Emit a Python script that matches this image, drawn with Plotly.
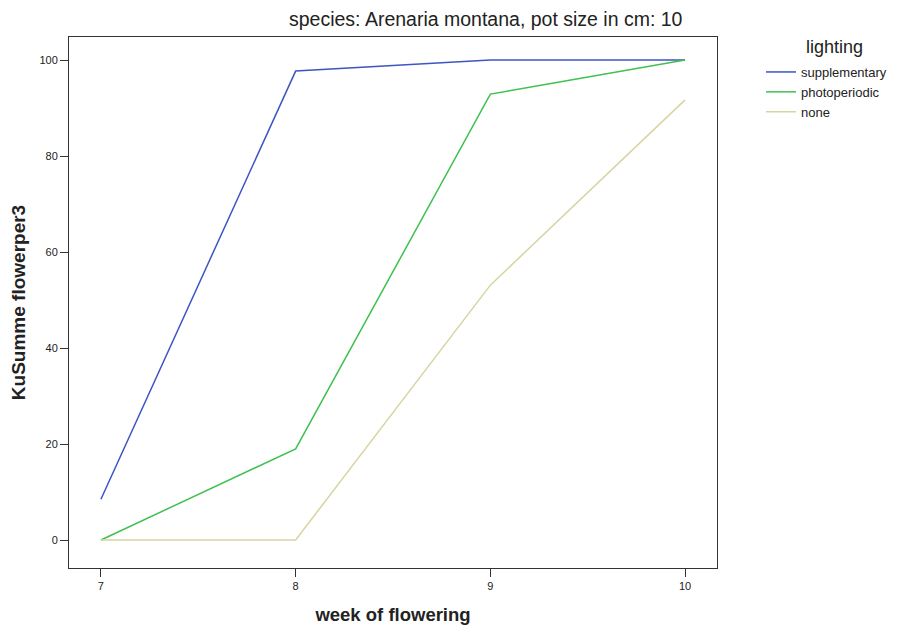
import plotly.graph_objects as go

weeks = [7, 8, 9, 10]
supplementary = [8.5, 97.7, 100.0, 100.0]
photoperiodic = [0.0, 19.0, 92.9, 100.0]
none_ = [0.0, 0.0, 53.1, 91.7]
x_ticks = [7, 8, 9, 10]
y_ticks = [0, 20, 40, 60, 80, 100]

OFF = 8  # page body margin
W, H = 897 - OFF, 626 - OFF
L, R, T, B = 69 - OFF, 717 - OFF, 37 - OFF, 568 - OFF
pw = R - L
ph = B - T

def px(x):
    return (x - OFF - L) / pw

def py(y):
    return (B - (y - OFF)) / ph

fig = go.Figure()
fig.add_trace(go.Scatter(x=weeks, y=supplementary, mode="lines", name="supplementary",
                         line=dict(color="#3d56c2", width=1.5)))
fig.add_trace(go.Scatter(x=weeks, y=photoperiodic, mode="lines", name="photoperiodic",
                         line=dict(color="#3fc04f", width=1.5)))
fig.add_trace(go.Scatter(x=weeks, y=none_, mode="lines", name="none",
                         line=dict(color="#d8d4a2", width=1.5)))

fig.update_layout(
    width=W, height=H,
    margin=dict(l=L, r=W - R, t=T, b=H - B, autoexpand=False),
    paper_bgcolor="white", plot_bgcolor="white",
    font=dict(family="Liberation Sans, Arial, sans-serif", color="#222"),
    xaxis=dict(range=[6.836, 10.164], tickvals=x_ticks, ticks="outside", ticklen=8,
               tickcolor="#333", showgrid=False, zeroline=False,
               showline=True, linecolor="#333", linewidth=1, mirror=True,
               tickfont=dict(size=11),
               title=dict(text="<b>week of flowering</b>", font=dict(size=18.5), standoff=16)),
    yaxis=dict(range=[-5.83, 104.8], tickvals=y_ticks, ticks="outside", ticklen=8,
               tickcolor="#333", showgrid=False, zeroline=False,
               showline=True, linecolor="#333", linewidth=1, mirror=True,
               tickfont=dict(size=11),
               title=dict(text="<b>KuSumme flowerper3</b>", font=dict(size=19), standoff=10)),
    legend=dict(x=px(761), y=py(57), xanchor="left", yanchor="top",
                font=dict(size=13), tracegroupgap=0, itemwidth=30,
                bgcolor="rgba(0,0,0,0)"),
    annotations=[
        dict(text="species: Arenaria montana, pot size in cm: 10",
             x=px(486), xref="paper", y=py(19), yref="paper", showarrow=False,
             font=dict(size=19.5), xanchor="center", yanchor="middle"),
        dict(text="lighting", x=px(804), xref="paper", y=py(47), yref="paper",
             showarrow=False, font=dict(size=18), xanchor="left", yanchor="middle"),
    ],
)

fig.write_html("out.html")
